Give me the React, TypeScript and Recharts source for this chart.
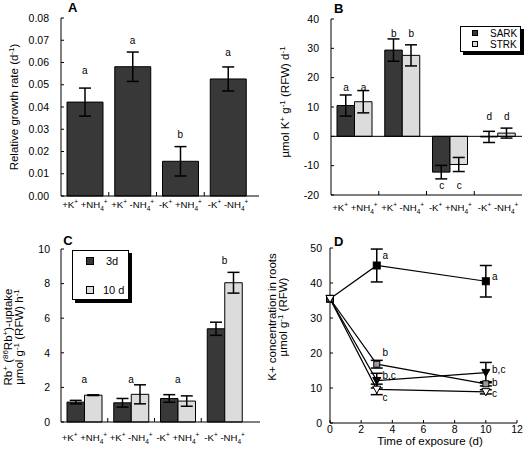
import React from 'react';
import {
  ComposedChart,
  Bar,
  Line,
  Scatter,
  XAxis,
  YAxis,
  ErrorBar,
  LabelList,
  ReferenceLine,
} from 'recharts';

const FONT = '"Liberation Sans", Arial, Helvetica, sans-serif';
const DARK = '#383838';
const LIGHT = '#dcdcdc';

// shared treatment categories
const categories = ['+K+ +NH4+', '+K+ -NH4+', '-K+ +NH4+', '-K+ -NH4+'];
const kSign = ['+', '+', '-', '-'];
const nhSign = ['+', '-', '+', '-'];

// A: relative growth rate
const growthRate = [0.0422, 0.0581, 0.0156, 0.0526];
const growthErr = [0.0063, 0.0066, 0.0066, 0.0054];
const growthLetters = ['a', 'a', 'b', 'a'];
const growthLetterAt = [0.0563, 0.07, 0.0275, 0.0643];
const growthTicks = [0, 0.01, 0.02, 0.03, 0.04, 0.05, 0.06, 0.07, 0.08];

// B: SARK / STRK
const sark = [10.5, 29.4, -12.2, -0.2];
const sarkErr = [3.6, 3.8, 2.3, 1.9];
const strk = [11.8, 27.6, -9.6, 1.1];
const strkErr = [3.8, 3.6, 2.4, 1.7];
const kLetters = ['a', 'b', 'c', 'd'];
const kLetterAt = [16.8, 35.2, -16.8, 6.7];
const kTicks = [-20, -10, 0, 10, 20, 30, 40];

// C: Rb uptake
const day3 = [1.15, 1.11, 1.36, 5.39];
const day3Err = [0.1, 0.25, 0.22, 0.38];
const day10 = [1.55, 1.6, 1.21, 8.05];
const day10Err = [0.02, 0.55, 0.3, 0.6];
const uptakeLetters = ['a', 'a', 'a', 'b'];
const uptakeLetterAt = [2.48, 2.48, 2.48, 9.33];
const uptakeTicks = [0, 2, 4, 6, 8, 10];

// D: K+ concentration over time
const times = [0, 3, 10];
const filledSq = [35.5, 45, 40.5];
const filledSqErr = [0, 4.7, 4.5];
const greySq = [35.5, 16.8, 11.2];
const greySqErr = [0, 1.1, 0.6];
const filledTri = [35.5, 12.1, 14.4];
const filledTriErr = [0, 2.1, 2.9];
const openTri = [35.5, 9.6, 8.9];
const openTriErr = [0, 1.5, 0.6];
const noteT = [3.37, 10.4, 3.37, 10.4, 3.37, 10.4, 3.37, 10.4];
const noteY = [47.8, 41.8, 20.2, 11.6, 13.5, 15.4, 7.4, 8.5];
const noteText = ['a', 'a', 'b', 'b', 'b,c', 'b,c', 'c', 'c'];
const timeTicks = [0, 2, 4, 6, 8, 10, 12];
const concTicks = [0, 10, 20, 30, 40, 50];

const growthData = categories.map((cat, i) => ({
  cat,
  rate: growthRate[i],
  err: growthErr[i],
  letter: growthLetters[i],
  letterAt: growthLetterAt[i],
}));

const kData = categories.map((cat, i) => ({
  cat,
  sark: sark[i],
  sarkErr: sarkErr[i],
  strk: strk[i],
  strkErr: strkErr[i],
  letter: kLetters[i],
  letterAt: kLetterAt[i],
}));

const uptakeData = categories.map((cat, i) => ({
  cat,
  d3: day3[i],
  d3Err: day3Err[i],
  d10: day10[i],
  d10Err: day10Err[i],
  letter: uptakeLetters[i],
  letterAt: uptakeLetterAt[i],
}));

const concData = times.map((t, i) => ({
  t,
  s1: filledSq[i],
  s1e: filledSqErr[i],
  s2: greySq[i],
  s2e: greySqErr[i],
  s3: filledTri[i],
  s3e: filledTriErr[i],
  s4: openTri[i],
  s4e: openTriErr[i],
}));

const notes = noteT.map((t, i) => ({ t, y: noteY[i], text: noteText[i] }));

const yTick = { fontSize: 10.5, fill: '#000', fontFamily: FONT };

// text pieces: n = normal, sup = raised, sub = lowered
type Seg = [string, 'n' | 'sup' | 'sub'];
const rich = (segs: Seg[], small: number) => {
  let shift = 0;
  return segs.map(([s, k], i) => {
    const target = k === 'sup' ? -4 : k === 'sub' ? 3 : 0;
    const dy = target - shift;
    shift = target;
    return (
      <tspan key={i} dy={dy} fontSize={k === 'n' ? undefined : small}>
        {s}
      </tspan>
    );
  });
};

// category label with K+ / NH4+ and a small boundary tick at the right side of the band
const makeCatTick = (band: number, dyText: number) => (props: any) => {
  const { x, y, payload } = props;
  const i = payload.index ?? props.index;
  const half = payload.offset > 0 ? payload.offset : band / 2;
  return (
    <g>
      {i < 3 && <line x1={x + half} x2={x + half} y1={y} y2={y - 4} stroke='#000' />}
      <text x={x} y={y + dyText} textAnchor='middle' fontSize={9.6} fontFamily={FONT} fill='#000'>
        {rich(
          [
            [kSign[i] + 'K', 'n'],
            ['+', 'sup'],
            [' ' + nhSign[i] + 'NH', 'n'],
            ['4', 'sub'],
            ['+', 'sup'],
          ],
          6.5
        )}
      </text>
    </g>
  );
};

const renderLetter = (dx: number) => (props: any) => {
  const x = props.x ?? props.viewBox?.x;
  const y = props.y ?? props.viewBox?.y;
  if (x == null || y == null) return null;
  return (
    <text x={x + dx} y={y} dy={3.5} textAnchor='middle' fontSize={10} fontFamily={FONT} fill='#000'>
      {props.value}
    </text>
  );
};

const NoteText = (p: any) => (
  <text x={p.cx} y={p.cy} dy={3.5} fontSize={10} fontFamily={FONT} fill='#000'>
    {p.payload.text}
  </text>
);

const squareDot = (size: number, fill: string) => (p: any) => {
  if (p.cx == null || p.cy == null) return <g key={p.index} />;
  return (
    <rect
      key={p.index}
      x={p.cx - size / 2}
      y={p.cy - size / 2}
      width={size}
      height={size}
      fill={fill}
      stroke='#000'
    />
  );
};

const triDot = (size: number, fill: string) => (p: any) => {
  if (p.cx == null || p.cy == null) return <g key={p.index} />;
  const { cx, cy } = p;
  const pts = `${cx - size / 2},${cy - size * 0.4} ${cx + size / 2},${cy - size * 0.4} ${cx},${cy + size * 0.5}`;
  return <polygon key={p.index} points={pts} fill={fill} stroke='#000' />;
};

const frameAxes = (domain: number[]) => [
  <XAxis
    key='top'
    xAxisId='top'
    orientation='top'
    dataKey='cat'
    height={0}
    tick={false}
    tickLine={false}
    axisLine={{ stroke: '#000' }}
  />,
  <YAxis
    key='right'
    yAxisId='right'
    orientation='right'
    type='number'
    domain={domain}
    width={0}
    tick={false}
    tickLine={false}
    axisLine={{ stroke: '#000' }}
  />,
];

const GrowthPanel = () => (
  <ComposedChart
    width={262}
    height={228}
    data={growthData}
    margin={{ top: 18, right: 3, bottom: 0, left: 0 }}
    barSize={36}
  >
    <XAxis
      dataKey='cat'
      height={32}
      padding={{ left: 0, right: 7 }}
      interval={0}
      tickSize={0}
      tickMargin={0}
      tick={makeCatTick(47.8, 11.5)}
      axisLine={{ stroke: '#000' }}
    />
    <YAxis
      width={61}
      type='number'
      domain={[0, 0.08]}
      ticks={growthTicks}
      interval={0}
      tickFormatter={(v: number) => v.toFixed(2)}
      tickSize={-3}
      tickMargin={15}
      tick={yTick}
      tickLine={{ stroke: '#000' }}
      axisLine={{ stroke: '#000' }}
    />
    {frameAxes([0, 0.08])}
    <Bar dataKey='rate' fill={DARK} stroke='#000' isAnimationActive={false}>
      <ErrorBar dataKey='err' width={6} stroke='#000' />
    </Bar>
    <Line dataKey='letterAt' stroke='none' dot={false} activeDot={false} isAnimationActive={false}>
      <LabelList dataKey='letter' content={renderLetter(0)} />
    </Line>
  </ComposedChart>
);

const KPanel = () => (
  <ComposedChart
    width={262}
    height={228}
    data={kData}
    margin={{ top: 19, right: 2, bottom: 0, left: 0 }}
    barSize={17.5}
    barGap={0}
  >
    <XAxis
      dataKey='cat'
      height={33}
      interval={0}
      tickSize={0}
      tickMargin={0}
      tick={makeCatTick(47.7, 15.5)}
      axisLine={{ stroke: '#000' }}
    />
    <YAxis
      width={69}
      type='number'
      domain={[-20, 40]}
      ticks={kTicks}
      interval={0}
      tickSize={-3}
      tickMargin={15}
      tick={yTick}
      tickLine={{ stroke: '#000' }}
      axisLine={{ stroke: '#000' }}
    />
    {frameAxes([-20, 40])}
    <ReferenceLine y={0} stroke='#000' />
    <Bar dataKey='sark' fill={DARK} stroke='#000' isAnimationActive={false}>
      <ErrorBar dataKey='sarkErr' width={6} stroke='#000' />
    </Bar>
    <Bar dataKey='strk' fill={LIGHT} stroke='#000' isAnimationActive={false}>
      <ErrorBar dataKey='strkErr' width={6} stroke='#000' />
    </Bar>
    <Line dataKey='letterAt' stroke='none' dot={false} activeDot={false} isAnimationActive={false}>
      <LabelList dataKey='letter' content={renderLetter(-8.75)} />
    </Line>
    <Line dataKey='letterAt' stroke='none' dot={false} activeDot={false} isAnimationActive={false}>
      <LabelList dataKey='letter' content={renderLetter(8.75)} />
    </Line>
  </ComposedChart>
);

const UptakePanel = () => (
  <ComposedChart
    width={262}
    height={228}
    data={uptakeData}
    margin={{ top: 21, right: 2, bottom: 0, left: 0 }}
    barSize={17.5}
    barGap={0}
  >
    <XAxis
      dataKey='cat'
      height={34}
      padding={{ left: 0, right: 12 }}
      interval={0}
      tickSize={0}
      tickMargin={0}
      tick={makeCatTick(46.6, 19.4)}
      axisLine={{ stroke: '#000' }}
    />
    <YAxis
      width={61}
      type='number'
      domain={[0, 10]}
      ticks={uptakeTicks}
      interval={0}
      tickSize={-3}
      tickMargin={14}
      tick={yTick}
      tickLine={{ stroke: '#000' }}
      axisLine={{ stroke: '#000' }}
    />
    {frameAxes([0, 10])}
    <Bar dataKey='d3' fill={DARK} stroke='#000' isAnimationActive={false}>
      <ErrorBar dataKey='d3Err' width={6} stroke='#000' />
    </Bar>
    <Bar dataKey='d10' fill={LIGHT} stroke='#000' isAnimationActive={false}>
      <ErrorBar dataKey='d10Err' width={6} stroke='#000' />
    </Bar>
    <Line dataKey='letterAt' stroke='none' dot={false} activeDot={false} isAnimationActive={false}>
      <LabelList dataKey='letter' content={renderLetter(0)} />
    </Line>
  </ComposedChart>
);

const ConcPanel = () => (
  <ComposedChart
    width={262}
    height={228}
    data={concData}
    margin={{ top: 20, right: 7, bottom: 0, left: 0 }}
  >
    <XAxis
      dataKey='t'
      type='number'
      domain={[0, 12]}
      ticks={timeTicks}
      interval={0}
      height={33}
      tickSize={-3}
      tickMargin={6}
      tick={yTick}
      tickLine={{ stroke: '#000' }}
      axisLine={{ stroke: '#000' }}
    />
    <YAxis
      width={68}
      type='number'
      domain={[0, 50]}
      ticks={concTicks}
      interval={0}
      tickSize={-3}
      tickMargin={11}
      tick={yTick}
      tickLine={{ stroke: '#000' }}
      axisLine={{ stroke: '#000' }}
    />
    <XAxis
      xAxisId='top'
      orientation='top'
      type='number'
      dataKey='t'
      domain={[0, 12]}
      height={0}
      tick={false}
      tickLine={false}
      axisLine={{ stroke: '#000' }}
    />
    <YAxis
      yAxisId='right'
      orientation='right'
      type='number'
      domain={[0, 50]}
      width={0}
      tick={false}
      tickLine={false}
      axisLine={{ stroke: '#000' }}
    />
    <Line dataKey='s1' stroke='#000' strokeWidth={1.2} dot={squareDot(7, '#000')} activeDot={false} isAnimationActive={false}>
      <ErrorBar dataKey='s1e' width={6} stroke='#000' direction='y' />
    </Line>
    <Line dataKey='s2' stroke='#000' strokeWidth={1.2} dot={squareDot(6, '#9a9a9a')} activeDot={false} isAnimationActive={false}>
      <ErrorBar dataKey='s2e' width={6} stroke='#000' direction='y' />
    </Line>
    <Line dataKey='s3' stroke='#000' strokeWidth={1.2} dot={triDot(8, '#000')} activeDot={false} isAnimationActive={false}>
      <ErrorBar dataKey='s3e' width={6} stroke='#000' direction='y' />
    </Line>
    <Line dataKey='s4' stroke='#000' strokeWidth={1.2} dot={triDot(8, '#fff')} activeDot={false} isAnimationActive={false}>
      <ErrorBar dataKey='s4e' width={6} stroke='#000' direction='y' />
    </Line>
    <Scatter data={notes} dataKey='y' shape={NoteText} isAnimationActive={false} />
  </ComposedChart>
);

const Titles = () => (
  <svg
    width={524}
    height={456}
    style={{ position: 'absolute', left: 0, top: 0, pointerEvents: 'none' }}
    fontFamily={FONT}
    fill='#000'
  >
    <text x={72.7} y={12} fontSize={13} fontWeight='bold' textAnchor='middle'>A</text>
    <text x={338.7} y={13} fontSize={13} fontWeight='bold' textAnchor='middle'>B</text>
    <text x={68} y={244.5} fontSize={13} fontWeight='bold' textAnchor='middle'>C</text>
    <text x={338.7} y={245.5} fontSize={13} fontWeight='bold' textAnchor='middle'>D</text>

    <text transform='translate(17.5,107) rotate(-90)' fontSize={11.5} textAnchor='middle'>
      {rich([['Relative growth rate (d', 'n'], ['-1', 'sup'], [')', 'n']], 8)}
    </text>
    <text transform='translate(289,102) rotate(-90)' fontSize={11.5} textAnchor='middle'>
      {rich(
        [
          ['µmol K', 'n'],
          ['+', 'sup'],
          [' g', 'n'],
          ['-1', 'sup'],
          [' (RFW) d', 'n'],
          ['-1', 'sup'],
        ],
        8
      )}
    </text>
    <text transform='translate(12,337) rotate(-90)' fontSize={11.5} textAnchor='middle'>
      {rich(
        [
          ['Rb', 'n'],
          ['+', 'sup'],
          [' (', 'n'],
          ['86', 'sup'],
          ['Rb', 'n'],
          ['+', 'sup'],
          [')-uptake', 'n'],
        ],
        8
      )}
    </text>
    <text transform='translate(23,337) rotate(-90)' fontSize={11.5} textAnchor='middle'>
      {rich(
        [
          ['µmol g', 'n'],
          ['-1', 'sup'],
          [' (RFW) h', 'n'],
          ['-1', 'sup'],
        ],
        8
      )}
    </text>
    <text transform='translate(276,317) rotate(-90)' fontSize={11.5} textAnchor='middle'>
      K+ concentration in roots
    </text>
    <text transform='translate(287,317) rotate(-90)' fontSize={11.5} textAnchor='middle'>
      {rich(
        [
          ['µmol g', 'n'],
          ['-1', 'sup'],
          [' (RFW)', 'n'],
        ],
        8
      )}
    </text>
    <text x={430} y={445} fontSize={11.5} textAnchor='middle'>
      Time of exposure (d)
    </text>
  </svg>
);

const legendBox: React.CSSProperties = {
  position: 'absolute',
  background: '#fff',
  border: '1px solid #000',
  boxShadow: '3px 3px 0 #000',
  fontFamily: FONT,
  color: '#000',
};

const Swatch = ({ left, top, size, fill }: any) => (
  <div
    style={{
      position: 'absolute',
      left,
      top,
      width: size,
      height: size,
      background: fill,
      border: '1px solid #000',
      boxSizing: 'border-box',
    }}
  />
);

const LegendText = ({ left, top, size, children }: any) => (
  <div style={{ position: 'absolute', left, top, fontSize: size, lineHeight: 1 }}>{children}</div>
);

const App = () => (
  <div style={{ position: 'absolute', left: 0, top: 0, width: 524, height: 456, background: '#fff' }}>
    <div style={{ position: 'absolute', left: 0, top: 0 }}>
      <GrowthPanel />
    </div>
    <div style={{ position: 'absolute', left: 262, top: 0 }}>
      <KPanel />
    </div>
    <div style={{ position: 'absolute', left: 0, top: 228 }}>
      <UptakePanel />
    </div>
    <div style={{ position: 'absolute', left: 262, top: 228 }}>
      <ConcPanel />
    </div>
    <Titles />
    <div style={{ ...legendBox, left: 460, top: 26, width: 59, height: 24 }}>
      <Swatch left={11} top={3} size={6} fill={DARK} />
      <LegendText left={29} top={2} size={10}>SARK</LegendText>
      <Swatch left={11} top={14} size={6} fill={LIGHT} />
      <LegendText left={29} top={13} size={10}>STRK</LegendText>
    </div>
    <div style={{ ...legendBox, left: 72, top: 250, width: 55, height: 48 }}>
      <Swatch left={13} top={6} size={8} fill={DARK} />
      <LegendText left={33} top={5} size={11}>3d</LegendText>
      <Swatch left={13} top={35} size={8} fill={LIGHT} />
      <LegendText left={30} top={34} size={11}>10 d</LegendText>
    </div>
  </div>
);

export default App;
